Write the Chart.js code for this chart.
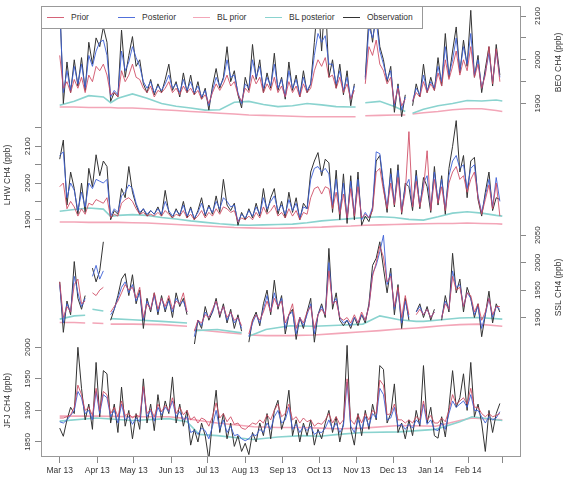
<!DOCTYPE html>
<html>
<head>
<meta charset="utf-8">
<script src="https://cdn.jsdelivr.net/npm/chart.js@4.4.1/dist/chart.umd.min.js"></script>
<style>
  body { margin: 0; background: #fff; }
  #wrap { position: relative; width: 567px; height: 477px; background: #fff; }
  #wrap canvas { position: absolute; left: 0; top: 0; }
  #legend {
    position: absolute; left: 41px; top: 6px; width: 380px; height: 21px;
    background: #fff; border: 1px solid #999;
    font: 8.5px "Liberation Sans", Arial, sans-serif; color: #333;
  }
  #legend .key { position: absolute; top: 10px; width: 17px; height: 0; border-top: 1.5px solid; }
  #legend .lab { position: absolute; top: 5px; line-height: 11px; white-space: nowrap; }
</style>
</head>
<body>
<div id="wrap">
  <canvas id="cJFJ" width="567" height="477"></canvas>
  <canvas id="cSSL" width="567" height="477"></canvas>
  <canvas id="cLHW" width="567" height="477"></canvas>
  <canvas id="cBEO" width="567" height="477"></canvas>
  <div id="legend"></div>
</div>
<script>
// one value every 3 days, day 0 = 1 Mar 2013
const STEP = 3;
const monthDays = [0, 31, 61, 92, 122, 153, 184, 214, 245, 275, 306, 337, 365];
const monthLabels = ['Mar 13', 'Apr 13', 'May 13', 'Jun 13', 'Jul 13', 'Aug 13', 'Sep 13',
  'Oct 13', 'Nov 13', 'Dec 13', 'Jan 14', 'Feb 14', ''];

// ---- BEO ----
const beoObs = [
  2140,1900,1995,1925,2000,1940,2005,1930,2040,1990,
  2050,2030,2075,2040,1905,1925,1915,2068,1960,2010,
  2053,1985,2000,1945,1925,1955,1920,1945,1925,1955,
  1990,1930,1950,1915,1970,1925,1965,1920,1950,1910,
  1935,1885,1940,1980,1935,1960,2030,1950,1975,1920,
  1890,1960,1930,2035,1955,2000,1925,1970,1935,2015,
  1930,1960,1910,1995,1930,1965,1915,1975,1925,1945,
  2040,2140,2020,2150,1960,2000,1935,1990,1920,1975,
  1895,1945,null,null,1960,2100,2040,2110,2030,2000,
  1950,1985,1880,1945,1870,1920,null,1895,1945,1915,
  1990,1925,1960,1930,2005,1940,2060,1960,2020,2075,
  1970,2045,1985,2113,1960,2010,1925,1980,2030,1940,
  2035,1965];
const beoPost = [
  2120,1925,1975,1930,1985,1945,1990,1935,2010,1985,
  2020,2040,2045,2010,1915,1930,1920,2020,1975,1995,
  2030,2005,1985,1950,1935,1950,1925,1940,1930,1945,
  1965,1935,1945,1925,1955,1930,1950,1925,1940,1915,
  1930,1895,1930,1960,1940,1955,2000,1960,1965,1925,
  1900,1945,1935,2000,1960,1985,1935,1960,1940,1990,
  1935,1955,1915,1975,1935,1955,1920,1960,1930,1945,
  2010,2060,2040,2055,1990,1990,1945,1975,1930,1960,
  1910,1940,null,null,1955,2075,2050,2090,2020,1990,
  1955,1975,1895,1940,1885,1915,null,1905,1935,1920,
  1965,1930,1950,1935,1985,1950,2030,1965,2000,2050,
  1975,2030,1990,2060,1965,2000,1935,1970,2015,1950,
  2020,1960];
const beoPrior = [
  2010,1935,1950,1925,1955,1935,1960,1925,1965,1950,
  1985,1975,1990,1965,1920,1925,1915,1975,1950,1965,
  1990,1960,1955,1935,1925,1940,1915,1930,1925,1935,
  1950,1925,1935,1920,1940,1925,1935,1920,1930,1910,
  1920,1900,1925,1945,1930,1945,1965,1940,1950,1920,
  1905,1935,1925,1965,1945,1960,1925,1945,1930,1960,
  1925,1940,1915,1950,1925,1940,1915,1945,1925,1935,
  1975,2000,1985,2005,1960,1965,1935,1960,1925,1945,
  1910,1930,null,null,1945,2030,2010,2045,1990,1975,
  1945,1960,1900,1935,1895,1910,null,1905,1925,1915,
  1950,1925,1945,1930,1970,1940,2000,1955,1985,2020,
  1965,2000,1975,2030,1960,1990,1935,1965,2030,1945,
  2025,1950];
const beoBlDays = [0,12,24,36,42,48,60,72,84,96,108,120,132,144,156,168,180,192,204,216,228,240,244,247,252,264,276,285,288,291,300,312,324,336,348,360,365];
const beoBlPost = [1896,1905,1918,1915,1902,1912,1922,1912,1900,1894,1890,1885,1886,1903,1905,1898,1893,1895,1900,1897,1893,1892,1892,null,1902,1905,1893,1882,null,1878,1887,1895,1900,1907,1906,1908,1906];
const beoBlPrior = [1892,1892,1891,1891,1891,1890,1890,1888,1886,1884,1882,1880,1878,1876,1874,1873,1872,1871,1870,1870,1870,1870,1870,null,1872,1873,1874,1874,null,1876,1879,1882,1886,1888,1888,1884,1882];
const beoTicks = [1900, 1950, 2000, 2050, 2100];
const beoTickLabels = [1900, 2000, 2100];

// ---- LHW ----
const lhwObs = [
  2065,2117,1940,2030,1985,1915,2000,1920,2040,1990,
  2077,2020,2060,2045,1900,1925,1915,1985,1960,2045,
  1975,1940,1915,1930,1910,1925,1915,1935,1910,1980,
  1920,1905,1930,1910,1950,1905,1935,1900,1925,1960,
  1910,1940,1915,1965,1920,2010,1940,1925,1945,1885,
  1920,1900,1930,1905,1945,1910,1985,1920,1960,1985,
  1915,1950,1905,1975,1920,1960,1900,1945,1930,2030,
  2060,2083,2020,2065,2055,1920,2035,1900,2025,1890,
  2020,1900,2030,1885,1910,1895,1930,2060,2075,1990,
  1920,2040,1935,2050,1915,2000,1990,1925,2035,1930,
  2015,1990,1920,2045,1940,2020,1915,2040,2100,2170,
  2030,2075,1960,2060,2070,1955,1910,1975,2030,1925,
  1960,1955];
const lhwPost = [
  2075,2085,1960,2000,1980,1925,1975,1935,2000,1985,
  2010,2005,2000,2010,1910,1930,1920,1965,1975,1995,
  1985,1945,1920,1930,1915,1925,1915,1930,1915,1950,
  1925,1910,1925,1915,1940,1910,1930,1905,1920,1945,
  1915,1935,1920,1950,1930,1960,1950,1935,1940,1895,
  1915,1905,1925,1910,1935,1915,1960,1930,1950,1965,
  1925,1940,1915,1955,1925,1945,1905,1935,1930,2010,
  2040,2045,2030,2040,2025,1940,2010,1920,2000,1905,
  2005,1915,2010,1900,1920,1905,1935,2085,2080,2000,
  1935,2025,1945,2035,1925,1990,2010,1935,2020,1940,
  2000,2020,1930,2030,1950,2010,1930,2020,2060,2075,
  2040,2050,1985,2040,2050,1965,1920,1965,2010,1935,
  2015,1950];
const lhwPrior = [
  1990,2000,1930,1950,1935,1910,1930,1915,1945,1940,
  1955,1950,1945,1960,1905,1915,1910,1945,1955,1960,
  1950,1930,1915,1920,1910,1915,1910,1920,1910,1925,
  1915,1905,1915,1910,1925,1905,1915,1900,1910,1925,
  1905,1920,1910,1930,1915,1935,1930,1920,1925,1895,
  1905,1900,1910,1900,1920,1905,1935,1915,1925,1940,
  1910,1920,1905,1930,1910,1925,1900,1920,1915,1960,
  1985,1990,1970,1990,1985,1930,1975,1915,1970,1905,
  1985,1910,1990,1905,1915,1905,1925,2030,2040,1980,
  1930,2000,1940,2015,1920,1975,2140,1935,2005,1935,
  1985,2088,1925,2010,1945,1990,1925,2000,2030,2045,
  2010,2020,1975,2010,2030,1960,1915,1955,1995,1930,
  2000,1910];
const lhwBlDays = [0,12,24,36,42,48,60,72,84,96,108,120,132,144,156,168,180,192,204,216,228,240,252,264,276,288,300,312,324,336,348,360,365];
const lhwBlPost = [1923,1928,1932,1929,1909,1912,1914,1912,1906,1902,1897,1893,1889,1886,1885,1886,1887,1888,1892,1897,1900,1903,1906,1908,1906,1901,1899,1908,1918,1922,1918,1912,1910];
const lhwBlPrior = [1894,1894,1893,1893,1893,1893,1892,1891,1889,1887,1885,1883,1881,1879,1878,1877,1877,1878,1879,1880,1882,1883,1885,1886,1887,1888,1889,1890,1890,1891,1890,1889,1888];
const lhwTicks = [1900, 1950, 2000, 2050, 2100, 2150];
const lhwTickLabels = [1900, 2000, 2100];

// ---- SSL ----
const sslObs = [
  1965,1873,1930,1905,2002,1935,1915,1940,null,1990,
  1965,1985,2038,null,1895,1915,1940,1970,1980,1940,
  1978,1925,1950,1880,1935,1910,1945,1905,1940,1910,
  1935,1900,1945,1920,1935,1905,null,1850,1895,1880,
  1920,1895,1910,1935,1900,1925,1890,1915,1880,1905,
  1875,null,1855,1895,1910,1885,1925,1950,1905,1968,
  1915,1940,1870,1905,1915,1860,1900,1880,1910,1935,
  1855,1905,1925,1900,2026,1915,1945,1895,1885,1895,
  1880,1900,1885,1905,1890,1925,1995,2008,2038,1990,
  1945,1990,1905,1960,1880,1935,1895,null,1910,1925,
  1900,1920,1895,1915,null,1895,1940,1910,2017,1945,
  1970,1910,1955,1935,1900,1925,1865,1905,1948,1890,
  1925,1910];
const sslPost = [
  1960,1890,1925,1910,1975,1945,1920,1935,null,1975,
  1995,1970,1985,null,1905,1915,1935,1955,1965,1945,
  1960,1930,1945,1895,1930,1915,1940,1910,1935,1915,
  1930,1910,1935,1925,1930,1910,null,1865,1895,1885,
  1910,1900,1910,1930,1905,1920,1895,1910,1890,1900,
  1880,null,1865,1890,1905,1890,1915,1940,1910,1945,
  1920,1935,1880,1905,1910,1870,1900,1885,1905,1925,
  1870,1905,1920,1905,2000,1925,1935,1900,1890,1895,
  1885,1900,1890,1905,1895,1920,1980,1995,2020,2050,
  1960,1980,1915,1950,1890,1930,1900,null,1910,1920,
  1905,1915,1900,1910,null,1900,1930,1915,1985,1955,
  1960,1920,1945,1935,1905,1920,1880,1905,1935,1900,
  1920,1915];
const sslPrior = [
  1965,1900,1920,1910,1960,1970,1925,1930,null,1945,
  1940,1950,1955,null,1910,1920,1930,1945,1960,1950,
  1955,1935,1955,1900,1925,1915,1945,1915,1935,1920,
  1940,1915,1930,1925,1945,1910,null,1875,1895,1890,
  1905,1900,1915,1930,1905,1920,1900,1910,1895,1900,
  1885,null,1870,1895,1905,1895,1910,1930,1910,1935,
  1920,1930,1890,1905,1925,1880,1900,1890,1910,1920,
  1880,1905,1915,1905,1985,1925,1930,1900,1895,1900,
  1890,1905,1890,1910,1895,1920,1975,2000,2030,2010,
  1965,1975,1920,1955,1900,1940,1905,null,1905,1915,
  1905,1915,1900,1910,null,1900,1925,1915,1975,1950,
  1955,1920,1945,1940,1910,1925,1895,1910,1935,1905,
  1920,1920];
const sslBlDays = [0,12,21,24,27,36,39,42,60,84,105,108,111,130,150,153,156,170,190,210,230,250,264,280,294,300,315,330,345,365];
const sslBlPost = [1897,1903,1904,null,1915,1912,null,1898,1896,1893,1890,null,1876,1878,1872,null,1866,1878,1885,1884,1886,1888,1903,1896,1893,1893,1896,1899,1900,1897];
const sslBlPrior = [1891,1891,1890,null,1890,1889,null,1888,1888,1887,1884,null,1878,1874,1870,null,1868,1867,1867,1868,1871,1874,1876,1879,1881,1882,1885,1887,1888,1884];
const sslTicks = [1900, 1950, 2000, 2050];
const sslTickLabels = [1900, 1950, 2000, 2050];

// ---- JFJ ----
const jfjObs = [
  1872,1859,1885,1905,1895,2000,1935,1885,1910,1870,
  1976,1890,1963,1958,1880,1910,1865,1937,1875,1900,
  1855,1895,1870,1950,1880,1910,1868,1925,1885,1915,
  1895,1953,1880,1910,1875,1900,1845,1870,1850,1880,
  1860,1822,1885,1932,1865,1895,1855,1880,1843,1860,
  1835,1848,1830,1865,1850,1880,1860,1895,1855,1900,
  1916,1870,1890,1932,1860,1885,1850,1880,1860,1885,
  1845,1870,1855,1880,1900,1865,1890,1850,1880,2003,
  1870,1845,1895,1860,1900,1870,1910,1885,1971,1965,
  1880,1895,1942,1865,1880,1855,1885,1860,1900,1875,
  1971,1880,1905,1860,1856,1890,1858,1905,1963,1905,
  1920,1958,1900,1976,1890,1910,1880,1835,1900,1865,
  1895,1911];
const jfjPost = [
  1882,1880,1885,1892,1900,1930,1920,1895,1900,1885,
  1930,1895,1925,1920,1890,1900,1880,1910,1885,1890,
  1878,1888,1882,1935,1890,1900,1883,1905,1893,1905,
  1898,1915,1890,1898,1885,1890,1865,1868,1862,1872,
  1868,1855,1875,1900,1870,1885,1865,1875,1860,1862,
  1855,1852,1855,1862,1860,1870,1865,1880,1870,1890,
  1900,1880,1885,1905,1870,1878,1865,1875,1868,1875,
  1862,1866,1865,1872,1885,1870,1880,1865,1875,1945,
  1875,1865,1885,1870,1890,1875,1895,1888,1935,1925,
  1885,1888,1905,1875,1878,1870,1878,1872,1885,1878,
  1910,1878,1885,1870,1868,1880,1870,1895,1915,1905,
  1910,1915,1905,1925,1900,1900,1890,1880,1890,1885,
  1888,1898];
const jfjPrior = [
  1888,1888,1890,1893,1905,1940,1925,1900,1905,1892,
  1935,1900,1930,1925,1895,1905,1890,1915,1892,1895,
  1888,1893,1890,1938,1895,1902,1890,1910,1898,1908,
  1900,1920,1895,1905,1893,1900,1885,1890,1880,1888,
  1885,1875,1890,1912,1888,1895,1882,1890,1878,1880,
  1872,1870,1875,1880,1878,1885,1880,1893,1885,1900,
  1910,1890,1895,1910,1885,1890,1880,1888,1882,1885,
  1875,1880,1878,1885,1895,1880,1890,1878,1885,1950,
  1885,1878,1893,1880,1895,1885,1900,1895,1948,1940,
  1893,1895,1910,1885,1885,1880,1885,1880,1890,1885,
  1915,1885,1892,1880,1880,1888,1882,1900,1925,1910,
  1915,1920,1910,1935,1905,1905,1895,1890,1895,1890,
  1892,1895];
const jfjBlDays = [0,30,60,90,105,115,130,150,160,180,200,215,230,250,280,310,330,340,365];
const jfjBlPost = [1883,1888,1884,1887,1882,1862,1860,1856,1854,1858,1860,1859,1862,1865,1866,1870,1882,1890,1884];
const jfjBlPrior = [1891,1891,1890,1890,1887,1884,1880,1876,1874,1873,1873,1872,1871,1872,1876,1875,1884,1888,1885];
const jfjTicks = [1850, 1900, 1950, 2000];
const jfjTickLabels = [1850, 1900, 1950, 2000];

// x range with R's 4% margin either side of the data
const X_MIN = -14.6, X_MAX = 379.6;
const FONT = '"Liberation Sans", Arial, Helvetica, sans-serif';

const series = [
  { key: 'prior',  label: 'Prior',        color: 'rgba(206,72,96,0.85)',  width: 1,   order: 0 },
  { key: 'post',   label: 'Posterior',    color: 'rgba(62,96,214,0.9)',   width: 1,   order: 1 },
  { key: 'blPrior', label: 'BL prior',    color: '#f3a6b8',               width: 1.6, order: 4 },
  { key: 'blPost', label: 'BL posterior', color: '#8ad3cf',               width: 1.6, order: 3 },
  { key: 'obs',    label: 'Observation',  color: '#333333',               width: 1,   order: 2 }
];

const panels = [
  { id: 'cBEO', side: 'right', title: 'BEO CH4 (ppb)', min: 1864.7, max: 2122.9, top: 6, bottom: 119,
    ticks: beoTicks, labels: beoTickLabels,
    obs: beoObs, post: beoPost, prior: beoPrior, blDays: beoBlDays, blPost: beoBlPost, blPrior: beoBlPrior },
  { id: 'cLHW', side: 'left', title: 'LHW CH4 (ppb)', min: 1869.4, max: 2174.4, top: 119, bottom: 231,
    ticks: lhwTicks, labels: lhwTickLabels,
    obs: lhwObs, post: lhwPost, prior: lhwPrior, blDays: lhwBlDays, blPost: lhwBlPost, blPrior: lhwBlPrior },
  { id: 'cSSL', side: 'right', title: 'SSL CH4 (ppb)', min: 1851.7, max: 2057.7, top: 231, bottom: 344,
    ticks: sslTicks, labels: sslTickLabels,
    obs: sslObs, post: sslPost, prior: sslPrior, blDays: sslBlDays, blPost: sslBlPost, blPrior: sslBlPrior },
  { id: 'cJFJ', side: 'left', title: 'JFJ CH4 (ppb)', min: 1826.2, max: 2005.2, top: 344, bottom: 457,
    ticks: jfjTicks, labels: jfjTickLabels,
    obs: jfjObs, post: jfjPost, prior: jfjPrior, blDays: jfjBlDays, blPost: jfjBlPost, blPrior: jfjBlPrior }
];

function pts(xs, ys) {
  return ys.map((y, i) => ({ x: xs[i], y: y }));
}

// box lines, rotated y tick labels and axis titles as R draws them
const rAxis = {
  id: 'rAxis',
  afterDraw(chart, args, o) {
    const ctx = chart.ctx, a = chart.chartArea;
    const sc = chart.scales[o.side === 'left' ? 'yL' : 'yR'];
    ctx.save();
    ctx.strokeStyle = '#999';
    ctx.lineWidth = 1;
    ctx.beginPath();
    ctx.moveTo(a.left - 0.5, a.top); ctx.lineTo(a.left - 0.5, a.bottom);
    ctx.moveTo(a.right + 0.5, a.top); ctx.lineTo(a.right + 0.5, a.bottom);
    if (o.topLine) { ctx.moveTo(a.left - 0.5, a.top + 0.5); ctx.lineTo(a.right + 0.5, a.top + 0.5); }
    if (o.bottomLine) { ctx.moveTo(a.left - 0.5, a.bottom - 0.5); ctx.lineTo(a.right + 0.5, a.bottom - 0.5); }
    ctx.stroke();

    ctx.fillStyle = '#333';
    ctx.textAlign = 'center';
    ctx.textBaseline = 'middle';
    ctx.font = '8px ' + FONT;
    const lx = o.side === 'left' ? a.left - 14.5 : a.right + 17.5;
    o.labels.forEach(v => {
      ctx.save();
      ctx.translate(lx, sc.getPixelForValue(v));
      ctx.rotate(-Math.PI / 2);
      ctx.fillText(String(v), 0, 0);
      ctx.restore();
    });
    ctx.font = '8.5px ' + FONT;
    const tx = o.side === 'left' ? a.left - 34 : a.right + 39;
    ctx.translate(tx, (a.top + a.bottom) / 2);
    ctx.rotate(-Math.PI / 2);
    ctx.fillText(o.title, 0, 0);
    ctx.restore();
  }
};

function yScale(p, pos, isData) {
  const s = {
    type: 'linear', position: pos, min: p.min, max: p.max,
    ticks: { display: false },
    grid: { display: false },
    border: { display: false },
    afterFit: sc => { sc.width = pos === 'left' ? 42 : 47; }
  };
  if (isData) {
    s.afterBuildTicks = sc => { sc.ticks = p.ticks.map(v => ({ value: v })); };
    s.grid = { display: true, drawOnChartArea: false, drawTicks: true,
               tickLength: pos === 'left' ? 7 : 6, color: '#888', lineWidth: 1 };
  }
  return s;
}

panels.forEach((p, k) => {
  const isBottom = k === panels.length - 1;
  const axisId = p.side === 'left' ? 'yL' : 'yR';
  const days = p.obs.map((_, i) => i * STEP);
  const dataFor = {
    prior: pts(days, p.prior),
    post: pts(days, p.post),
    obs: pts(days, p.obs),
    blPrior: pts(p.blDays, p.blPrior),
    blPost: pts(p.blDays, p.blPost)
  };
  const datasets = series.map(s => ({
    label: s.label,
    data: dataFor[s.key],
    borderColor: s.color,
    borderWidth: s.width,
    pointRadius: 0,
    tension: 0,
    fill: false,
    spanGaps: false,
    order: s.order,
    xAxisID: 'x',
    yAxisID: axisId
  }));

  new Chart(document.getElementById(p.id), {
    type: 'line',
    data: { datasets },
    options: {
      responsive: false,
      animation: false,
      devicePixelRatio: 1,
      layout: { padding: { top: p.top, bottom: isBottom ? 0 : 477 - p.bottom, left: 0, right: 0 } },
      scales: {
        x: {
          type: 'linear', min: X_MIN, max: X_MAX, display: isBottom, position: 'bottom',
          afterBuildTicks: sc => { sc.ticks = monthDays.map(v => ({ value: v })); },
          afterFit: sc => { sc.height = isBottom ? 477 - p.bottom : 0; },
          ticks: {
            autoSkip: false, maxRotation: 0, minRotation: 0, padding: 3,
            color: '#333', font: { family: FONT, size: 8.5 },
            callback: (v, i) => monthLabels[i]
          },
          grid: { drawOnChartArea: false, drawTicks: true, tickLength: 6, color: '#888' },
          border: { display: false }
        },
        yL: yScale(p, 'left', p.side === 'left'),
        yR: yScale(p, 'right', p.side === 'right')
      },
      plugins: {
        legend: { display: false },
        tooltip: { enabled: false },
        rAxis: { side: p.side, labels: p.labels, title: p.title, topLine: k === 0, bottomLine: isBottom }
      }
    },
    plugins: [rAxis]
  });
});

// legend box drawn over the top panel, like R's legend()
const legendX = [5, 76, 151, 223, 301];
const legend = document.getElementById('legend');
series.forEach((s, i) => {
  const key = document.createElement('span');
  key.className = 'key';
  key.style.left = legendX[i] + 'px';
  key.style.borderTopColor = s.color;
  const lab = document.createElement('span');
  lab.className = 'lab';
  lab.style.left = (legendX[i] + 24) + 'px';
  lab.textContent = s.label;
  legend.appendChild(key);
  legend.appendChild(lab);
});
</script>
</body>
</html>
